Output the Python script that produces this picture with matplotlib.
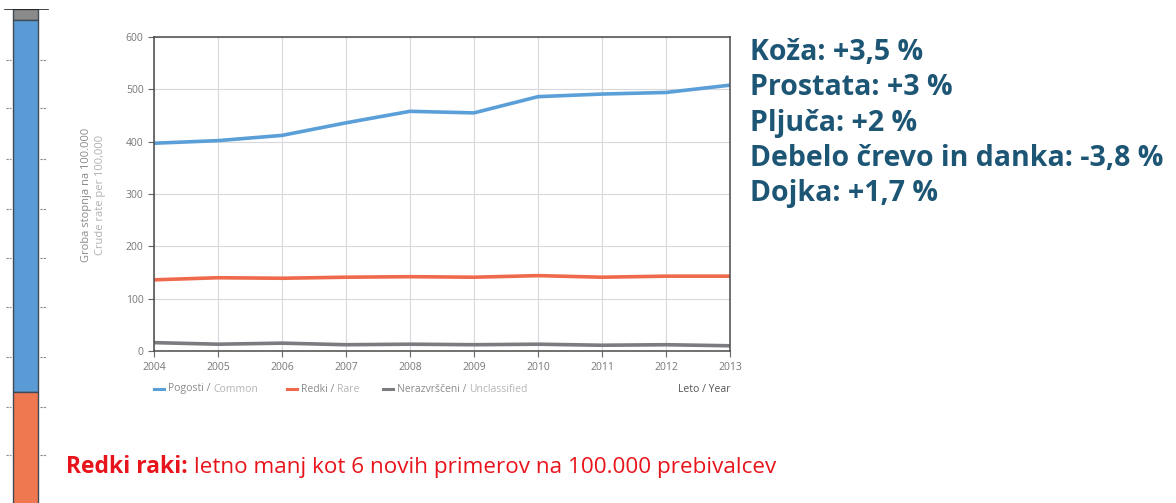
import matplotlib
matplotlib.use("Agg")
import matplotlib.pyplot as plt

# Podatki (odcitani s slike)
leta = [2004, 2005, 2006, 2007, 2008, 2009, 2010, 2011, 2012, 2013]
pogosti = [397, 402, 412, 436, 458, 455, 486, 491, 494, 508]
redki = [136, 140, 139, 141, 142, 141, 144, 141, 143, 143]
nerazvrsceni = [16, 13, 15, 12, 13, 12, 13, 11, 12, 10]

# stolpec levo (delezi, zgoraj navzdol: nerazvrsceni, pogosti, redki)
stolpec_oznake = ["Nerazvrsceni", "Pogosti", "Redki"]
stolpec_vrednosti = [2.0, 65.7, 32.3]

spremembe = ["Koža: +3,5 %", "Prostata: +3 %", "Pljuča: +2 %",
             "Debelo črevo in danka: -3,8 %", "Dojka: +1,7 %"]

MODRA = "#5b9fd8"
RDECA = "#ef6a4c"
SIVA = "#7b7b80"
TEMNA = "#1d5575"

W, H = 1176, 503
fig = plt.figure(figsize=(W / 100, H / 100), dpi=100)
plt.rcParams["font.family"] = ["Open Sans", "DejaVu Sans"]


def ax_px(x0, y0, x1, y1):
    return fig.add_axes([x0 / W, 1 - y1 / H, (x1 - x0) / W, (y1 - y0) / H])


# --- levi stolpec (sega cez spodnji rob) ---
axb = ax_px(0, 9, 50, 574)
barve_st = ["#8a8a8a", "#5b9bd5", "#f07850"]
vrh = 100.0
for v, c in zip(stolpec_vrednosti, barve_st):
    axb.bar(0, v, bottom=vrh - v, width=1.0, color=c, edgecolor="#3f4a55",
            linewidth=1.0)
    vrh -= v
axb.set_xlim(-1, 1)
axb.set_ylim(0, 100)
for s in axb.spines.values():
    s.set_visible(False)
axb.set_xticks([])
axb.set_yticks([])
axb.axhline(100, xmin=0.1, xmax=0.96, color="#222222", lw=1.2)
for yp in [60, 108, 159, 209, 258, 307, 357, 407, 455]:
    yy = 100 - (yp - 9) / (574 - 9) * 100
    axb.plot([-0.78, -0.55], [yy, yy], color="#888888", lw=0.8, ls=(0, (2, 1)))
    axb.plot([0.6, 0.85], [yy, yy], color="#888888", lw=0.8, ls=(0, (2, 1)))

# --- glavni graf ---
ax = ax_px(154, 37, 730, 351)
ax.plot(leta, pogosti, color=MODRA, lw=2.6, solid_capstyle="butt")
ax.plot(leta, redki, color=RDECA, lw=2.6, solid_capstyle="butt")
ax.plot(leta, nerazvrsceni, color=SIVA, lw=2.6, solid_capstyle="butt")
ax.set_xlim(2004, 2013)
ax.set_ylim(0, 600)
ax.set_xticks(leta)
ax.set_yticks(range(0, 601, 100))
ax.grid(True, color="#d8d8dc", lw=0.8)
ax.set_axisbelow(True)
for s in ax.spines.values():
    s.set_color("#4a4a4a")
    s.set_linewidth(1.1)
ax.tick_params(axis="both", colors="#666666", labelcolor="#777777",
               labelsize=7.5, length=4, width=0.8)
ax.tick_params(axis="x", pad=4)

# oznaka osi y (dve vrstici)
fig.text(87 / W, 1 - 195 / H, "Groba stopnja na 100.000", rotation=90,
         ha="center", va="center", fontsize=8, color="#8a8a8a")
fig.text(100 / W, 1 - 195 / H, "Crude rate per 100,000", rotation=90,
         ha="center", va="center", fontsize=8, color="#b0b0b0")

# legenda pod grafom
leg_y = 1 - 389 / H
legenda = [(MODRA, "Pogosti", "Common", 154),
           (RDECA, "Redki", "Rare", 287),
           (SIVA, "Nerazvrščeni", "Unclassified", 383)]
for c, sl, en, xp in legenda:
    fig.add_artist(plt.Line2D([xp / W, (xp + 10) / W], [leg_y, leg_y],
                              color=c, lw=2.2))
    t = fig.text((xp + 14) / W, leg_y, sl + " / ", fontsize=7.5,
                 color="#8a8a8a", va="center")
    fig.canvas.draw()
    bb = t.get_window_extent()
    fig.text(bb.x1 / W, leg_y, en, fontsize=7.5, color="#b5b5b5",
             va="center")
fig.text(731 / W, leg_y, "Leto / Year", fontsize=7.5, color="#555555",
         va="center", ha="right")

# desno besedilo
for i, s in enumerate(spremembe):
    fig.text(750 / W, 1 - (52 + i * 35.5) / H, s, fontsize=20.5,
             fontweight="bold", color=TEMNA, va="center")

# spodnje besedilo
t1 = fig.text(66 / W, 1 - 467 / H, "Redki raki:", fontsize=16.5,
              fontweight="bold", color="#e8141b", va="center")
fig.canvas.draw()
bb = t1.get_window_extent()
fig.text((bb.x1 + 6) / W, 1 - 467 / H,
         "letno manj kot 6 novih primerov na 100.000 prebivalcev",
         fontsize=16.2, color="#e8141b", va="center")

fig.savefig("out.png", dpi=100)
